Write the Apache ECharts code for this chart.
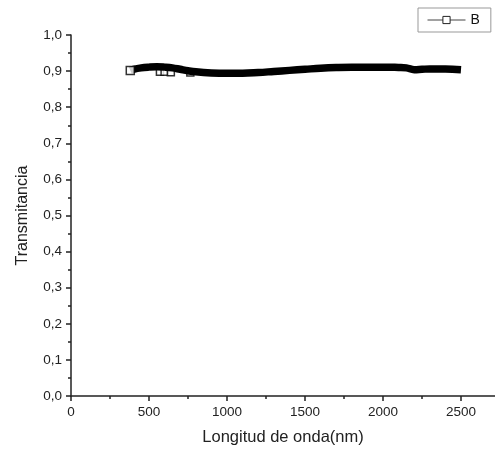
<!DOCTYPE html>
<html><head><meta charset="utf-8">
<script src="https://cdn.jsdelivr.net/npm/echarts@6/dist/echarts.min.js"></script>
<style>html,body{margin:0;padding:0;background:#fff}#c{width:495px;height:451px}</style>
</head><body><div id="c"></div>
<script>
var wavelength = [380, 400, 450, 500, 550, 600, 650, 700, 750, 800, 900, 1000, 1100, 1200, 1300, 1400, 1500, 1600, 1700, 1800, 1900, 2000, 2100, 2150, 2200, 2250, 2300, 2400, 2500];
var transmitancia = [0.902, 0.905, 0.909, 0.911, 0.912, 0.911, 0.909, 0.905, 0.901, 0.898, 0.895, 0.894, 0.894, 0.896, 0.899, 0.902, 0.905, 0.908, 0.910, 0.911, 0.911, 0.911, 0.910, 0.909, 0.904, 0.905, 0.906, 0.906, 0.904];
var noisyX = [380, 570, 600, 640, 765];
var noisyY = [0.902, 0.898, 0.898, 0.897, 0.896];
var xTicks = [0, 500, 1000, 1500, 2000, 2500];

var chart = echarts.init(document.getElementById('c'));
var axisColor = '#222';
var noisyPts = noisyX.map(function (x, i) { return [x, noisyY[i]]; });
var sqStyle = {color: '#fff', borderColor: '#000', borderWidth: 1.5};
chart.setOption({
  animation: false,
  textStyle: {fontFamily: 'Liberation Sans, Arial, sans-serif'},
  grid: {left: 71, right: 0, top: 35, bottom: 55},
  legend: {
    left: 418, top: 8,
    data: ['B'],
    borderColor: '#999', borderWidth: 1, padding: [5, 11, 5, 9],
    itemWidth: 38, itemHeight: 9,
    textStyle: {fontSize: 14, color: '#111'},
    lineStyle: {width: 1, color: '#444'},
    itemStyle: {color: '#fff', borderColor: '#222', borderWidth: 1}
  },
  xAxis: {
    type: 'value', min: 0, max: 2718, interval: 500,
    name: 'Longitud de onda(nm)', nameLocation: 'middle', nameGap: 33,
    nameTextStyle: {fontSize: 16.5, color: '#222'},
    axisLine: {lineStyle: {color: axisColor, width: 1.5}},
    axisTick: {customValues: xTicks, length: 5, lineStyle: {color: axisColor, width: 1.5}},
    minorTick: {show: true, splitNumber: 2, length: 3, lineStyle: {color: axisColor, width: 1.5}},
    axisLabel: {customValues: xTicks, fontSize: 13.5, color: '#222', margin: 9,
      formatter: function (v) { return String(v); }},
    splitLine: {show: false}
  },
  yAxis: {
    type: 'value', min: 0, max: 1.0, interval: 0.1,
    name: 'Transmitancia', nameLocation: 'middle', nameGap: 40, nameRotate: 90,
    nameTextStyle: {fontSize: 16, color: '#222'},
    axisLine: {show: true, lineStyle: {color: axisColor, width: 1.5}},
    axisTick: {show: true, length: 5, lineStyle: {color: axisColor, width: 1.5}},
    minorTick: {show: true, splitNumber: 2, length: 3, lineStyle: {color: axisColor, width: 1.5}},
    axisLabel: {fontSize: 13.5, color: '#222', margin: 9, formatter: function (v) { return v.toFixed(1).replace('.', ','); }},
    splitLine: {show: false}
  },
  series: [{
    name: 'B', type: 'line', smooth: 0.4,
    data: wavelength.map(function (x, i) { return [x, transmitancia[i]]; }),
    symbol: 'rect', symbolSize: 7, showSymbol: false,
    lineStyle: {color: '#000', width: 7.5},
    itemStyle: {color: '#fff', borderColor: '#000', borderWidth: 1}
  }, {
    name: 'noisy', type: 'scatter',
    data: noisyPts.slice(1),
    symbol: 'rect', symbolSize: 7,
    itemStyle: sqStyle,
    z: 1
  }, {
    name: 'start', type: 'scatter',
    data: noisyPts.slice(0, 1),
    symbol: 'rect', symbolSize: 8,
    itemStyle: sqStyle,
    z: 3
  }]
});
</script></body></html>
